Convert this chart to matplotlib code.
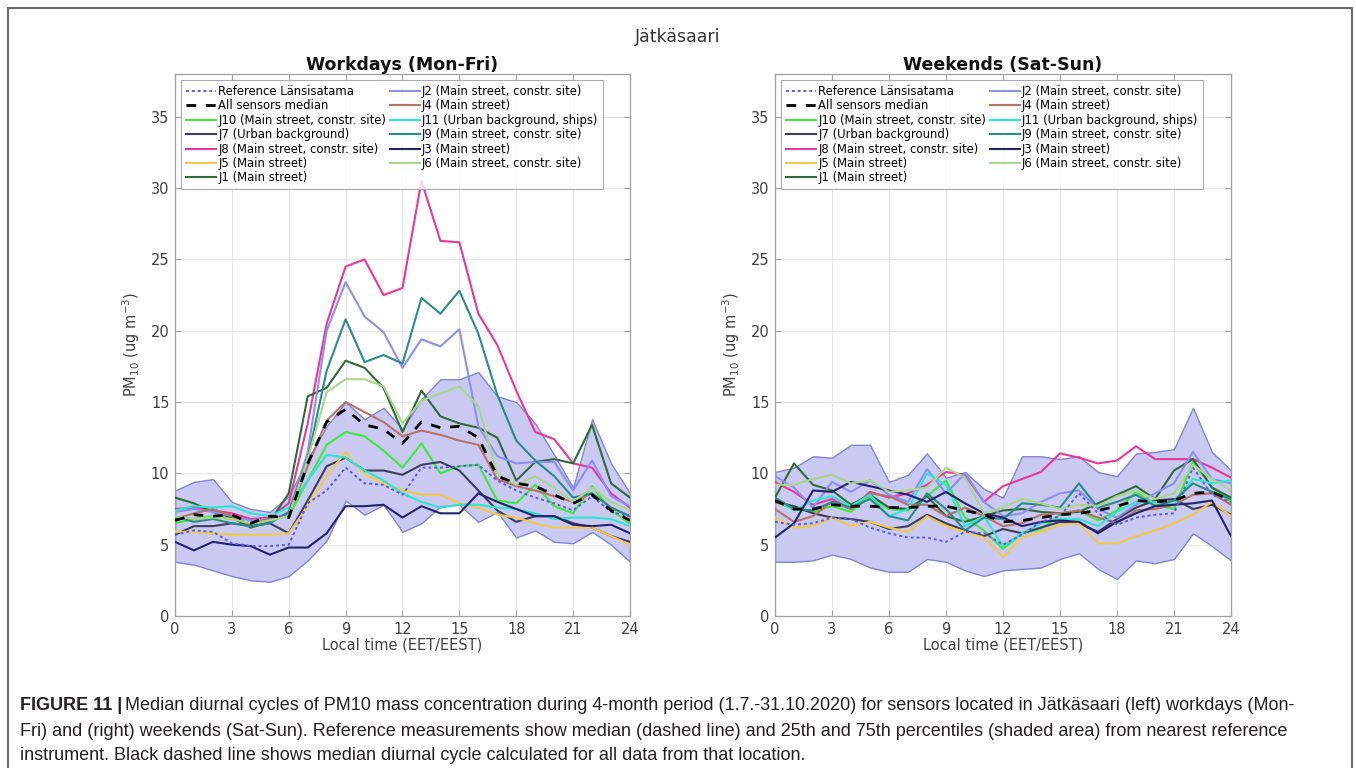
import matplotlib
matplotlib.use("Agg")
import matplotlib.pyplot as plt
from matplotlib.patches import Rectangle
from matplotlib.lines import Line2D

hours = list(range(25))
x_ticks = [0, 3, 6, 9, 12, 15, 18, 21, 24]
y_ticks = [0, 5, 10, 15, 20, 25, 30, 35]

names = ["Reference Länsisatama", "All sensors median",
         "J10 (Main street, constr. site)", "J7 (Urban background)",
         "J8 (Main street, constr. site)", "J5 (Main street)", "J1 (Main street)",
         "J2 (Main street, constr. site)", "J4 (Main street)",
         "J11 (Urban background, ships)", "J9 (Main street, constr. site)",
         "J3 (Main street)", "J6 (Main street, constr. site)"]

# ---------------- Workdays (Mon-Fri) ----------------
wd_band_hi = [8.8, 9.4, 9.6, 8.0, 7.5, 7.3, 8.4, 11.0, 13.3, 15.0, 13.8, 14.6, 13.1,
              15.2, 16.6, 16.6, 17.1, 15.4, 15.0, 13.5, 11.3, 9.0, 13.8, 10.7, 8.6]
wd_band_lo = [3.8, 3.6, 3.2, 2.8, 2.5, 2.4, 2.8, 3.9, 5.3, 8.1, 7.1, 7.8, 5.9,
              6.5, 7.7, 7.8, 6.6, 7.3, 5.5, 6.0, 5.2, 5.1, 5.9, 5.0, 3.8]
wd_ref = [5.7, 6.0, 5.9, 5.1, 4.9, 4.9, 5.0, 7.9, 8.8, 10.4, 9.3, 9.2, 8.5,
          10.4, 10.4, 10.5, 10.6, 9.5, 8.8, 8.3, 7.9, 7.4, 8.4, 7.3, 7.0]
wd_median = [6.7, 7.1, 7.0, 7.1, 6.5, 7.0, 6.9, 10.7, 13.6, 14.5, 13.4, 13.1, 12.1,
             13.6, 13.2, 13.3, 12.5, 9.8, 9.3, 9.1, 8.5, 7.9, 8.5, 7.4, 6.7]
wd_j10 = [6.5, 6.8, 7.0, 6.8, 6.5, 6.8, 7.0, 9.5, 12.0, 12.9, 12.6, 11.6, 10.4,
          12.1, 10.0, 10.5, 10.6, 8.1, 7.9, 9.2, 7.7, 7.2, 9.1, 7.4, 6.5]
wd_j7 = [5.7, 6.3, 6.3, 6.5, 6.3, 6.5, 5.8, 8.1, 10.5, 11.1, 10.2, 10.2, 9.9,
         10.6, 10.8, 10.2, 8.8, 7.4, 6.6, 7.0, 7.0, 6.5, 6.2, 5.6, 5.2]
wd_j8 = [7.5, 7.6, 7.4, 7.2, 6.8, 6.9, 7.9, 13.5, 20.5, 24.5, 25.0, 22.5, 23.0,
         30.5, 26.3, 26.2, 21.2, 19.0, 15.8, 12.9, 12.4, 10.7, 10.4, 8.6, 7.6]
wd_j5 = [5.9, 5.9, 5.8, 5.7, 5.7, 5.7, 5.8, 7.7, 9.8, 11.5, 9.9, 9.3, 8.8,
         8.5, 8.5, 7.9, 7.6, 7.1, 6.9, 6.5, 6.2, 6.2, 6.2, 5.6, 5.0]
wd_j1 = [8.3, 7.9, 7.3, 6.9, 6.2, 6.6, 8.6, 15.4, 16.0, 17.9, 17.4, 16.0, 12.9,
         15.8, 14.0, 13.5, 13.2, 12.5, 9.5, 10.8, 11.0, 10.7, 13.4, 9.3, 8.3]
wd_j2 = [7.3, 7.5, 7.3, 7.0, 6.7, 6.8, 7.2, 11.5, 20.0, 23.4, 21.0, 19.9, 17.4,
         19.4, 18.9, 20.1, 13.3, 11.2, 10.7, 10.8, 10.8, 8.8, 10.9, 8.4, 7.7]
wd_j4 = [6.8, 7.2, 7.5, 7.0, 6.4, 6.9, 7.0, 10.5, 13.7, 15.0, 14.3, 13.6, 12.6,
         13.0, 12.7, 12.3, 12.0, 9.6, 9.1, 8.8, 8.4, 8.0, 8.6, 7.6, 7.0]
wd_j11 = [7.4, 7.7, 7.6, 7.7, 7.2, 7.0, 7.6, 9.5, 11.3, 11.1, 10.2, 9.5, 8.6,
          8.0, 7.6, 7.8, 7.8, 7.6, 7.5, 7.2, 6.8, 6.9, 6.9, 6.8, 6.3]
wd_j9 = [7.0, 6.6, 6.8, 6.5, 6.3, 6.5, 7.3, 11.0, 17.2, 20.8, 17.8, 18.3, 17.7,
         22.3, 21.2, 22.8, 19.8, 15.5, 12.3, 10.9, 9.8, 8.3, 8.6, 7.6, 7.0]
wd_j3 = [5.2, 4.6, 5.2, 5.0, 4.9, 4.3, 4.8, 4.8, 5.8, 7.7, 7.7, 7.8, 6.9,
         7.7, 7.2, 7.2, 8.6, 8.0, 7.5, 7.0, 7.0, 6.4, 6.3, 6.4, 5.8]
wd_j6 = [7.0, 6.8, 6.9, 6.8, 6.5, 6.7, 7.0, 11.0, 15.7, 16.6, 16.6, 16.1, 13.5,
         15.1, 15.6, 16.1, 14.7, 10.0, 9.2, 9.8, 9.0, 8.0, 9.0, 8.0, 7.4]

# ---------------- Weekends (Sat-Sun) ----------------
we_band_hi = [10.1, 10.4, 11.2, 11.1, 12.0, 12.0, 9.4, 9.9, 11.4, 9.7, 10.1, 8.9, 8.3,
              11.2, 11.2, 11.0, 11.2, 10.1, 9.8, 11.4, 11.5, 11.7, 14.6, 11.5, 10.2]
we_band_lo = [3.8, 3.8, 3.9, 4.3, 4.0, 3.4, 3.1, 3.1, 4.0, 3.8, 3.2, 2.8, 3.2,
              3.3, 3.4, 4.0, 4.4, 3.3, 2.6, 3.9, 3.7, 4.0, 5.8, 4.9, 3.9]
we_ref = [6.6, 6.4, 6.5, 6.9, 6.8, 6.2, 5.8, 5.5, 5.5, 5.2, 5.9, 5.8, 5.0,
          5.7, 6.6, 7.0, 8.6, 7.2, 6.4, 6.9, 7.1, 7.2, 10.4, 8.5, 8.0]
we_median = [8.1, 7.5, 7.5, 7.8, 7.7, 7.7, 7.6, 7.6, 7.7, 7.7, 7.4, 7.1, 6.6,
             6.7, 6.9, 7.1, 7.2, 7.4, 7.7, 8.1, 8.0, 8.1, 8.6, 8.7, 8.1]
we_j10 = [8.0, 7.5, 7.3, 7.7, 7.3, 8.4, 7.5, 7.4, 8.4, 9.5, 6.9, 6.0, 4.7,
          5.8, 6.1, 7.1, 7.4, 6.7, 7.4, 8.7, 7.8, 7.5, 10.8, 9.0, 8.0]
we_j7 = [8.0, 7.7, 7.2, 6.9, 6.8, 6.6, 6.1, 6.3, 7.1, 6.5, 6.0, 5.6, 6.1,
         5.8, 6.2, 6.6, 6.5, 5.9, 6.8, 7.6, 8.1, 8.2, 7.5, 7.8, 7.1]
we_j8 = [9.4, 8.7, 7.8, 8.2, 7.5, 8.7, 8.3, 8.6, 9.2, 10.1, 9.9, 8.0, 9.1,
         9.6, 10.1, 11.4, 11.1, 10.7, 10.9, 11.9, 11.0, 11.0, 11.0, 10.4, 9.7]
we_j5 = [6.9, 6.2, 6.3, 6.9, 6.3, 6.6, 6.2, 5.9, 7.0, 6.3, 5.9, 5.5, 4.1,
         5.5, 5.9, 6.4, 6.5, 5.1, 5.1, 5.6, 6.0, 6.5, 7.1, 8.0, 7.0]
we_j1 = [8.3, 10.7, 9.2, 8.8, 7.8, 8.5, 7.6, 7.5, 8.4, 7.0, 6.6, 7.0, 7.4,
         7.5, 7.3, 7.2, 7.3, 7.9, 8.5, 9.1, 8.2, 10.2, 11.0, 9.0, 8.3]
we_j2 = [9.8, 9.0, 7.6, 9.4, 8.7, 9.5, 8.5, 8.0, 10.3, 8.6, 10.0, 8.0, 7.0,
         7.2, 8.0, 8.6, 8.8, 7.5, 6.9, 7.8, 8.6, 9.3, 11.5, 9.6, 9.3]
we_j4 = [7.5, 6.6, 7.0, 8.0, 7.5, 8.6, 8.4, 7.8, 7.8, 7.0, 7.6, 7.0, 6.3,
         6.5, 7.1, 7.2, 7.4, 6.9, 6.5, 7.4, 7.5, 7.8, 8.5, 8.6, 7.8]
we_j11 = [8.2, 7.4, 8.1, 8.4, 7.7, 8.5, 7.0, 7.5, 10.0, 9.2, 6.3, 7.0, 4.9,
          5.8, 6.5, 6.8, 6.8, 6.3, 7.3, 8.0, 8.0, 7.8, 9.6, 9.3, 9.5]
we_j9 = [8.3, 7.5, 7.4, 8.0, 7.6, 8.2, 7.0, 6.7, 8.6, 7.5, 6.0, 6.9, 6.8,
         7.9, 7.8, 7.6, 9.3, 7.6, 8.0, 8.5, 7.7, 8.1, 9.3, 8.7, 8.2]
we_j3 = [5.5, 6.5, 8.8, 8.7, 9.4, 9.1, 8.8, 8.5, 8.0, 8.7, 7.9, 7.2, 6.9,
         6.3, 6.6, 6.7, 6.6, 5.8, 6.6, 7.2, 7.7, 7.8, 7.9, 8.1, 5.6]
we_j6 = [9.2, 9.2, 9.6, 9.9, 9.3, 9.5, 8.7, 8.8, 9.0, 10.4, 9.7, 7.2, 7.6,
         8.2, 7.9, 7.5, 7.8, 7.7, 8.4, 8.8, 8.2, 8.6, 10.6, 9.6, 8.8]

colors = ["#5b5be0", "#000000", "#3ee83e", "#3d3d5c", "#e8379b", "#f2c94c", "#2f6b3a",
          "#8d8ff0", "#b5736a", "#2ee6d0", "#2a8c8a", "#23236e", "#a9d68a"]

wd_series = [wd_ref, wd_median, wd_j10, wd_j7, wd_j8, wd_j5, wd_j1,
             wd_j2, wd_j4, wd_j11, wd_j9, wd_j3, wd_j6]
we_series = [we_ref, we_median, we_j10, we_j7, we_j8, we_j5, we_j1,
             we_j2, we_j4, we_j11, we_j9, we_j3, we_j6]

plt.rcParams['font.family'] = ['DejaVu Sans']

fig = plt.figure(figsize=(13.56, 7.68), dpi=100)
W, H = 1356, 768

def px_axes(x0, y0, x1, y1):
    return fig.add_axes([x0 / W, 1 - y1 / H, (x1 - x0) / W, (y1 - y0) / H])

ax1 = px_axes(175, 74, 630, 616)
ax2 = px_axes(775, 74, 1231, 616)

def draw(ax, series, lo, hi, title, show_ylabel=True):
    ax.fill_between(hours, lo, hi, facecolor="#c9c9f2", edgecolor="#8383d4",
                    linewidth=1.0, zorder=1)
    order = list(range(len(series)))
    draw_order = order[2:] + [0, 1]
    for i in draw_order:
        if i == 0:
            ax.plot(hours, series[i], color=colors[i], linestyle=(0, (1.5, 1.5)),
                    linewidth=1.4, zorder=4)
        elif i == 1:
            ax.plot(hours, series[i], color=colors[i], linestyle=(0, (3.5, 3.5)),
                    linewidth=2.0, zorder=5)
        else:
            ax.plot(hours, series[i], color=colors[i], linewidth=1.5, zorder=3)
    hs = []
    for i in order:
        if i == 0:
            hs.append(Line2D([], [], color=colors[i], linestyle=(0, (1.5, 1.5)), linewidth=1.4))
        elif i == 1:
            hs.append(Line2D([], [], color=colors[i], linestyle=(0, (3.5, 3.5)), linewidth=2.0))
        else:
            hs.append(Line2D([], [], color=colors[i], linewidth=1.5))
    leg = ax.legend(hs, names, loc="upper left", ncol=2, fontsize=8.4,
                    frameon=True, fancybox=False, edgecolor="#999999",
                    handlelength=2.6, handletextpad=0.15, columnspacing=0.3,
                    labelspacing=0.12, borderpad=0.4, borderaxespad=0.55)
    leg.get_frame().set_linewidth(0.8)
    ax.set_xlim(0, 24)
    ax.set_ylim(0, 38)
    ax.set_xticks(x_ticks)
    ax.set_yticks(y_ticks)
    ax.grid(True, color="#e6e6e6", linewidth=0.8)
    ax.set_axisbelow(True)
    for s in ax.spines.values():
        s.set_color("#a0a0a0")
        s.set_linewidth(0.9)
    ax.tick_params(direction="in", length=4, color="#a0a0a0", labelsize=10.5,
                   labelcolor="#404040", top=True, right=True, pad=4)
    ax.set_xlabel("Local time (EET/EEST)", fontsize=10.5, color="#404040", labelpad=1)
    if show_ylabel:
        ax.set_ylabel(r"PM$_{10}$ (ug m$^{-3}$)", fontsize=10.5, color="#404040", labelpad=6)
    ax.set_title(title, fontsize=12.5, fontweight="bold", color="#111111", pad=3)

draw(ax1, wd_series, wd_band_lo, wd_band_hi, "Workdays (Mon-Fri)")
draw(ax2, we_series, we_band_lo, we_band_hi, "Weekends (Sat-Sun)")

fig.text(678 / W, 1 - 37 / H, "Jätkäsaari", ha="center", va="center",
         fontsize=12.5, color="#333333")

# outer frame
fig.add_artist(Rectangle((8 / W, -0.01), (1352 - 8) / W, 1 - 8 / H + 0.01,
                         transform=fig.transFigure, fill=False,
                         edgecolor="#666666", linewidth=1.4))

cap_font = ['Liberation Sans Narrow', 'Liberation Sans', 'DejaVu Sans']
cap_size = 12.95
cap_lines = [
    "Median diurnal cycles of PM10 mass concentration during 4-month period (1.7.-31.10.2020) for sensors located in Jätkäsaari (left) workdays (Mon-",
    "Fri) and (right) weekends (Sat-Sun). Reference measurements show median (dashed line) and 25th and 75th percentiles (shaded area) from nearest reference",
    "instrument. Black dashed line shows median diurnal cycle calculated for all data from that location.",
]
cap_y = [706, 731, 755]
fig.canvas.draw()
renderer = fig.canvas.get_renderer()
bold = fig.text(20 / W, 1 - cap_y[0] / H, "FIGURE 11 |", family=cap_font,
                fontweight="bold", fontsize=cap_size, color="#231f20", va="center", ha="left")
bb = bold.get_window_extent(renderer=renderer)
x_after = (bb.x1 + 3) / W
fig.text(x_after, 1 - cap_y[0] / H, cap_lines[0], family=cap_font, fontsize=cap_size,
         color="#231f20", va="center", ha="left")
for t, yy in zip(cap_lines[1:], cap_y[1:]):
    fig.text(20 / W, 1 - yy / H, t, family=cap_font, fontsize=cap_size,
             color="#231f20", va="center", ha="left")

fig.savefig("out.png", dpi=100)
